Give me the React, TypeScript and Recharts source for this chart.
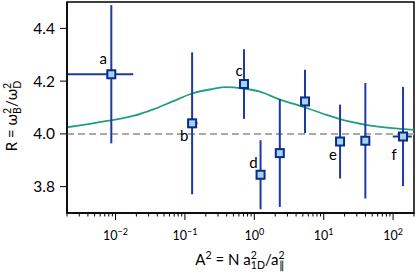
import {
  ComposedChart,
  XAxis,
  YAxis,
  Line,
  Scatter,
  ErrorBar,
  ReferenceLine,
  ReferenceArea,
} from "recharts";

// measured points
const POINT_TAGS = ["a", "b", "c", "d", "", "", "e", "", "f"];
const POINT_A2 = [0.0087, 0.127, 0.71, 1.23, 2.33, 5.38, 17.2, 39.8, 139];
const POINT_R = [4.226, 4.04, 4.189, 3.845, 3.927, 4.123, 3.971, 3.974, 3.99];
const POINT_R_ERR = [0.262, 0.269, 0.132, 0.131, 0.204, 0.12, 0.14, 0.219, 0.188];
const POINT_A2_ERR: [number, number][] = [
  [0.0067, 0.0093],
  [0.018, 0.025],
  [0, 0],
  [0, 0],
  [0, 0],
  [0, 0],
  [0, 0],
  [0, 0],
  [40, 47],
];

// model curve
const CURVE_A2 = [0.002, 0.008, 0.018, 0.035, 0.065, 0.13, 0.25, 0.38, 0.5, 0.7, 1.2, 2.3, 5.3, 11, 24, 50, 200];
const CURVE_R = [4.025, 4.05, 4.068, 4.093, 4.122, 4.154, 4.17, 4.177, 4.176, 4.172, 4.16, 4.131, 4.101, 4.072, 4.046, 4.03, 4.015];

const BASELINE_R = 4;
const X_DOMAIN = [0.002, 200];
const Y_DOMAIN = [3.7, 4.5];
const Y_TICKS = [3.8, 4.0, 4.2, 4.4];

const points = POINT_A2.map((x, i) => ({
  x,
  r: POINT_R[i],
  rErr: POINT_R_ERR[i],
  xErr: POINT_A2_ERR[i],
  tag: POINT_TAGS[i],
}));
const curve = CURVE_A2.map((x, i) => ({ x, r: CURVE_R[i] }));

const xTicks: number[] = [];
for (let k = -3; k <= 2; k++) {
  for (let m = 1; m <= 9; m++) {
    const v = m * Math.pow(10, k);
    if (v >= X_DOMAIN[0] - 1e-12 && v <= X_DOMAIN[1] + 1e-9) xTicks.push(v);
  }
}

const NAVY = "#0b2a8c";
const BAR = "#1c3a9f";
const TAG_OFFSETS: Record<string, [number, number]> = {
  a: [-8, -10],
  b: [-8, 18],
  c: [-5, -8],
  d: [-7, -7],
  e: [-7, 18],
  f: [-9, 23],
};

function XTick(props: any) {
  const { x, y, payload } = props;
  const lg = Math.log10(payload.value);
  const e = Math.round(lg);
  const major = Math.abs(lg - e) < 1e-6;
  return (
    <g>
      <line x1={x} x2={x} y1={y} y2={y + (major ? 7 : 3.5)} stroke="#000" strokeWidth={1} />
      {major && (
        <text x={x} y={y + 27} textAnchor="middle" fontSize={12.5} fill="#000">
          10
          <tspan dy={-5} fontSize={9}>
            {e < 0 ? "\u2212" + -e : String(e)}
          </tspan>
        </text>
      )}
    </g>
  );
}

function Marker(props: any) {
  const { cx, cy, payload } = props;
  const off = TAG_OFFSETS[payload.tag];
  return (
    <g>
      <rect x={cx - 4} y={cy - 4} width={8} height={8} fill="#a3d5ec" stroke={NAVY} strokeWidth={2} />
      {off && (
        <text x={cx + off[0]} y={cy + off[1]} textAnchor="middle" fontSize={15} fill="#000">
          {payload.tag}
        </text>
      )}
    </g>
  );
}

function YLabel() {
  return (
    <text transform="translate(17,116) rotate(-90)" textAnchor="middle" fontSize={15} fill="#000">
      R = ω
      <tspan dy={-6} fontSize={10.5}>2</tspan>
      <tspan dx={-6} dy={10} fontSize={10.5}>B</tspan>
      <tspan dy={-4}>/ω</tspan>
      <tspan dy={-6} fontSize={10.5}>2</tspan>
      <tspan dx={-6} dy={10} fontSize={10.5}>D</tspan>
    </text>
  );
}

function XLabel() {
  return (
    <text x={240} y={265} textAnchor="middle" fontSize={15} fill="#000">
      A<tspan dy={-6} fontSize={10.5}>2</tspan>
      <tspan dy={6}> = N a</tspan>
      <tspan dy={-6} fontSize={10.5}>2</tspan>
      <tspan dx={-6} dy={10} fontSize={10.5}>1D</tspan>
      <tspan dy={-4}>/a</tspan>
      <tspan dy={-6} fontSize={10.5}>2</tspan>
      <tspan dx={-6} dy={10} fontSize={10.5}>∥</tspan>
    </text>
  );
}

export default function App() {
  return (
    <div style={{ position: "absolute", left: 0, top: 0, fontFamily: "Lato, sans-serif", background: "#fff" }}>
      <ComposedChart width={416} height={277} margin={{ top: 2, right: 2, bottom: 0, left: 0 }}>
        <XAxis
          dataKey="x"
          type="number"
          scale="log"
          domain={X_DOMAIN}
          allowDataOverflow
          ticks={xTicks}
          interval={0}
          tick={<XTick />}
          tickLine={false}
          tickSize={0}
          tickMargin={0}
          height={64}
          axisLine={{ stroke: "#000", strokeWidth: 1.5 }}
          label={<XLabel />}
        />
        <YAxis
          type="number"
          domain={Y_DOMAIN}
          allowDataOverflow
          ticks={Y_TICKS}
          interval={0}
          tickFormatter={(v: number) => v.toFixed(1)}
          tick={{ fontSize: 15.5, fill: "#000" }}
          tickLine={{ stroke: "#000", strokeWidth: 1 }}
          tickSize={7}
          tickMargin={5}
          width={67}
          axisLine={{ stroke: "#000", strokeWidth: 1.5 }}
          label={<YLabel />}
        />
        <ReferenceArea
          x1={X_DOMAIN[0]}
          x2={X_DOMAIN[1]}
          y1={Y_DOMAIN[0]}
          y2={Y_DOMAIN[1]}
          fill="none"
          stroke="#000"
          strokeWidth={1.5}
          fillOpacity={0}
        />
        <ReferenceLine y={BASELINE_R} stroke="#aaaaaa" strokeWidth={2} strokeDasharray="7 4" />
        <Line
          data={curve}
          dataKey="r"
          type="monotone"
          stroke="#259d80"
          strokeWidth={1.8}
          dot={false}
          activeDot={false}
          isAnimationActive={false}
        />
        <Scatter data={points} dataKey="r" shape={<Marker />} isAnimationActive={false}>
          <ErrorBar dataKey="rErr" direction="y" width={0} stroke={BAR} strokeWidth={2} />
          <ErrorBar dataKey="xErr" direction="x" width={0} stroke={BAR} strokeWidth={2} />
        </Scatter>
      </ComposedChart>
    </div>
  );
}
